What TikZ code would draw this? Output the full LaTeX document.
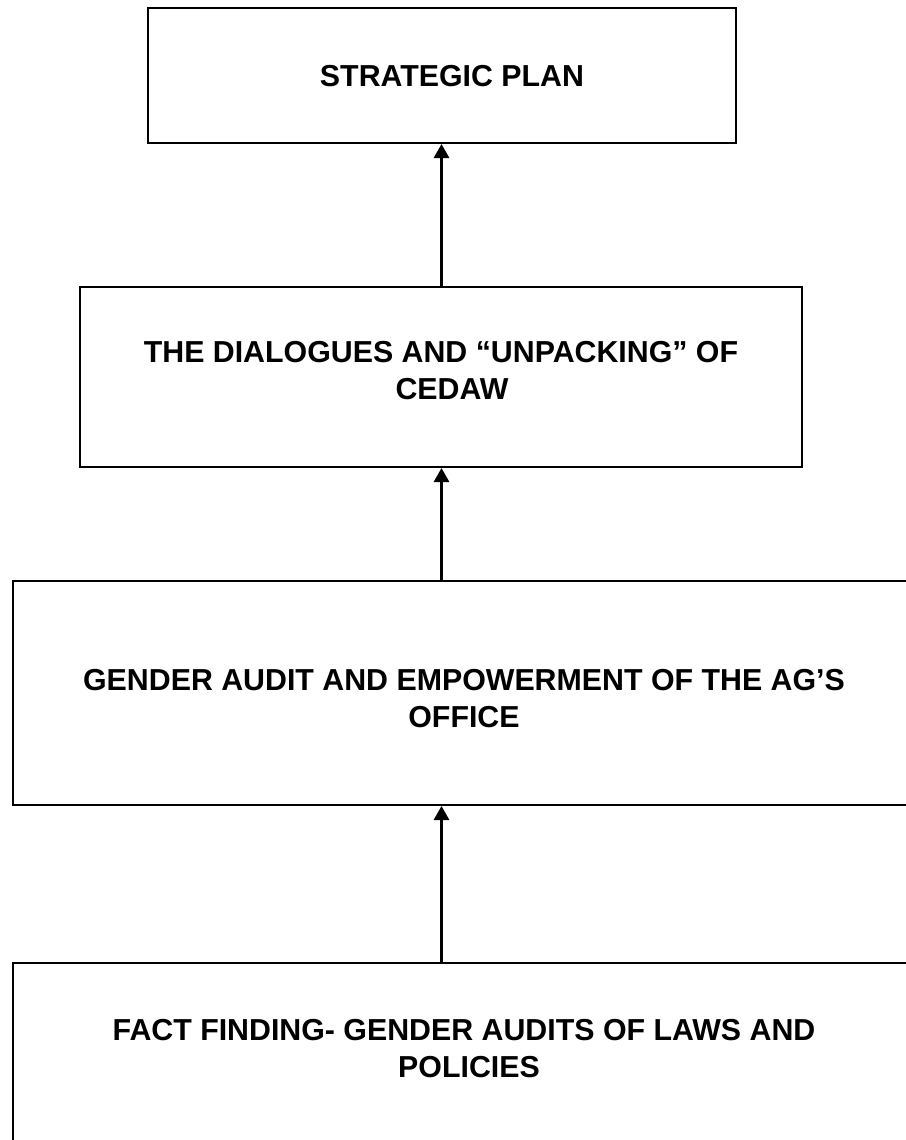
\documentclass[tikz,border=0pt]{standalone}
\usepackage{fontspec}
\setmainfont{Liberation Sans}
\usetikzlibrary{arrows.meta}
\tikzset{
  stagebox/.style={draw=black, line width=1.6pt, rectangle, inner sep=0pt},
  stagetext/.style={inner sep=0pt, align=center,
    font=\bfseries\fontsize{22.75pt}{27.75pt}\selectfont},
  uparrow/.style={draw=black, line width=1.6pt, -{Triangle[width=11.5pt,length=10.5pt]}}
}
\begin{document}
\begin{tikzpicture}[x=0.75pt,y=-0.75pt]
\useasboundingbox (0,0) rectangle (906,1140);
\clip (0,0) rectangle (906,1140);
\node[stagebox, minimum width=441pt, minimum height=101.25pt] (b1) at (442,75.5) {};
\node[stagebox, minimum width=541.5pt, minimum height=135pt] (b2) at (441,377) {};
\node[stagebox, minimum width=676.5pt, minimum height=168pt] (b3) at (464,693) {};
\node[stagebox, minimum width=676.5pt, minimum height=168pt] (b4) at (464,1075) {};
\node[stagetext] (t1) at (452,76) {STRATEGIC PLAN};
\node[stagetext] (t2) at (441,371) {THE DIALOGUES AND “UNPACKING” OF\\\hspace*{16.5pt}CEDAW};
\node[stagetext] (t3) at (464,698.5) {GENDER AUDIT AND EMPOWERMENT OF THE AG’S\\OFFICE};
\node[stagetext] (t4) at (464,1048.5) {FACT FINDING- GENDER AUDITS OF LAWS AND\\\hspace*{7.5pt}POLICIES};
\coordinate (axis) at (441.5,0);
\draw[uparrow] (b2.north -| axis) -- (b1.south -| axis);
\draw[uparrow] (b3.north -| axis) -- (b2.south -| axis);
\draw[uparrow] (b4.north -| axis) -- (b3.south -| axis);
\end{tikzpicture}
\end{document}
